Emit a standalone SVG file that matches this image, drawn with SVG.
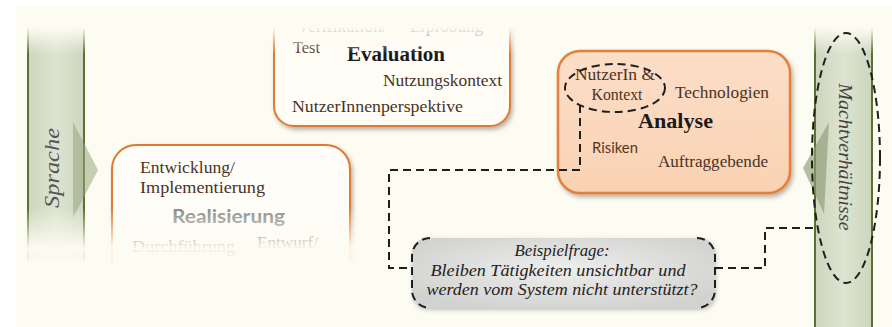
<svg xmlns="http://www.w3.org/2000/svg" width="892" height="327" viewBox="0 0 892 327">
<defs>
<style>
.serif{font-family:"Liberation Serif","DejaVu Serif",serif;}
.sans{font-family:Lato,"Open Sans","Liberation Sans",sans-serif;}
.t{font-size:16px;fill:#4a3226;}
.dash{fill:none;stroke:#1e1e1e;stroke-width:2;stroke-dasharray:8 5;}
.bar{fill:url(#barG);}
.barline{stroke:#5b7032;stroke-width:2;}
</style>
<linearGradient id="barG" x1="0" y1="0" x2="1" y2="0">
<stop offset="0" stop-color="#cdd6bd"/><stop offset="0.5" stop-color="#dde3d0"/><stop offset="1" stop-color="#cdd6bd"/>
</linearGradient>
<linearGradient id="peach" x1="0" y1="0" x2="0" y2="1">
<stop offset="0" stop-color="#fcdec8"/><stop offset="1" stop-color="#fad2b2"/>
</linearGradient>
<radialGradient id="grayG" cx="0.5" cy="0.45" r="0.6">
<stop offset="0" stop-color="#eeeeec"/><stop offset="1" stop-color="#d2d2d0"/>
</radialGradient>
<linearGradient id="topFade" x1="0" y1="0" x2="0" y2="1">
<stop offset="0.5" stop-color="#fdfcf2" stop-opacity="1"/><stop offset="1" stop-color="#fdfcf2" stop-opacity="0"/>
</linearGradient>
<linearGradient id="botFade" x1="0" y1="0" x2="0" y2="1">
<stop offset="0" stop-color="#fdfcf2" stop-opacity="0"/><stop offset="1" stop-color="#fdfcf2" stop-opacity="1"/>
</linearGradient>
<filter id="sh" x="-10%" y="-10%" width="125%" height="130%">
<feDropShadow dx="2" dy="3" stdDeviation="2" flood-color="#6e5a48" flood-opacity="0.45"/>
</filter>
<filter id="sh2" x="-10%" y="-10%" width="125%" height="130%">
<feDropShadow dx="1" dy="2" stdDeviation="2" flood-color="#555" flood-opacity="0.35"/>
</filter>
</defs>

<rect x="0" y="0" width="892" height="327" fill="#ffffff"/>
<rect x="16" y="6" width="876" height="321" fill="#fdfcf2"/>

<g id="sprache">
<rect class="bar" x="27" y="20" width="58" height="240"/>
<line class="barline" x1="28" y1="20" x2="28" y2="260"/>
<line class="barline" x1="84" y1="20" x2="84" y2="260"/>
<polygon points="73,122 98,170 73,218" fill="#98a67f" opacity="0.55"/>
<text class="serif" x="59" y="168" transform="rotate(-90 59 168)" text-anchor="middle" font-size="20" font-style="italic" fill="#555" textLength="80" lengthAdjust="spacingAndGlyphs">Sprache</text>
</g>

<g id="machtverhaeltnisse">
<rect class="bar" x="815" y="20" width="57" height="307"/>
<line class="barline" x1="815" y1="20" x2="815" y2="327"/>
<line class="barline" x1="872" y1="20" x2="872" y2="327"/>
<polygon points="829,122 803,168 824,214" fill="#8f9d76" opacity="0.65"/>
<text class="serif" x="839" y="157" transform="rotate(90 839 157)" text-anchor="middle" font-size="18" font-style="italic" fill="#444" textLength="147" lengthAdjust="spacingAndGlyphs">Machtverhältnisse</text>
</g>

<g id="evaluation">
<rect x="274" y="-20" width="236" height="146" rx="20" fill="#fffdf6" stroke="#e07a30" stroke-width="2" filter="url(#sh)"/>
<text class="serif t" x="297" y="32" fill="#6a5a50" textLength="90" lengthAdjust="spacingAndGlyphs">Verifikation/</text>
<text class="serif t" x="410" y="32" fill="#6a5a50" textLength="73" lengthAdjust="spacingAndGlyphs">Erprobung</text>
<text class="serif t" x="293" y="53" textLength="27" lengthAdjust="spacingAndGlyphs">Test</text>
<text class="serif" x="347" y="61" font-size="20" font-weight="bold" fill="#1a1a1a" textLength="98" lengthAdjust="spacingAndGlyphs">Evaluation</text>
<text class="serif t" x="383" y="86" textLength="119" lengthAdjust="spacingAndGlyphs">Nutzungskontext</text>
<text class="serif t" x="292" y="112" textLength="171" lengthAdjust="spacingAndGlyphs">NutzerInnenperspektive</text>
</g>

<g id="realisierung">
<rect x="112" y="145" width="238" height="170" rx="24" fill="#fffdf7" stroke="#e07a30" stroke-width="2" filter="url(#sh)"/>
<text class="serif t" x="140" y="173" fill="#4d3a30" textLength="95" lengthAdjust="spacingAndGlyphs">Entwicklung/</text>
<text class="serif t" x="140" y="193" fill="#7e6a5b" textLength="125" lengthAdjust="spacingAndGlyphs">Implementierung</text>
<text class="sans" x="172" y="223" font-size="19" font-weight="bold" fill="#8a8a8a" textLength="113" lengthAdjust="spacingAndGlyphs">Realisierung</text>
<text class="serif t" x="132" y="252" fill="#b0a090" textLength="103" lengthAdjust="spacingAndGlyphs">Durchführung</text>
<text class="serif t" x="257" y="248" fill="#b0a090" textLength="61" lengthAdjust="spacingAndGlyphs">Entwurf/</text>
</g>

<rect x="16" y="0" width="876" height="54" fill="url(#topFade)"/>
<rect x="16" y="208" width="360" height="42" fill="url(#botFade)"/>
<rect x="16" y="250" width="360" height="77" fill="#fdfcf2" opacity="0.92"/>
<rect x="16" y="262" width="360" height="65" fill="#fdfcf2"/>
<rect x="0" y="0" width="892" height="6" fill="#ffffff"/>
<rect x="0" y="0" width="16" height="327" fill="#ffffff"/>

<g id="analyse">
<rect x="558" y="51" width="232" height="142" rx="22" fill="url(#peach)" stroke="#e5803a" stroke-width="2.5" filter="url(#sh)"/>
<text class="serif t" x="615" y="80" text-anchor="middle" fill="#5a3522" textLength="80" lengthAdjust="spacingAndGlyphs">NutzerIn &amp;</text>
<text class="serif t" x="617" y="100" text-anchor="middle" fill="#5a3522" textLength="51" lengthAdjust="spacingAndGlyphs">Kontext</text>
<text class="serif t" x="675" y="98" fill="#5a3522" textLength="94" lengthAdjust="spacingAndGlyphs">Technologien</text>
<text class="serif" x="638" y="128" font-size="20" font-weight="bold" fill="#1a1a1a" textLength="75" lengthAdjust="spacingAndGlyphs">Analyse</text>
<text class="sans" x="592" y="153" font-size="15" fill="#5a3522" textLength="46" lengthAdjust="spacingAndGlyphs">Risiken</text>
<text class="serif t" x="658" y="167" fill="#5a3522" textLength="110" lengthAdjust="spacingAndGlyphs">Auftraggebende</text>
<ellipse class="dash" cx="615" cy="88" rx="50" ry="24"/>
</g>

<g id="beispielfrage">
<rect x="412" y="238" width="303" height="70" rx="15" fill="url(#grayG)" filter="url(#sh2)"/>
<path class="dash" d="M430,238 A18 18 0 0 0 412,256 L412,290 A18 18 0 0 0 430,308"/>
<path class="dash" d="M697,238 A18 18 0 0 1 715,256 L715,290 A18 18 0 0 1 697,308"/>
<text class="serif" font-style="italic" font-size="16" fill="#222" text-anchor="middle">
<tspan x="564" y="256" textLength="95" lengthAdjust="spacingAndGlyphs">Beispielfrage:</tspan>
<tspan x="560" y="276" textLength="255" lengthAdjust="spacingAndGlyphs">Bleiben Tätigkeiten unsichtbar und</tspan>
<tspan x="562" y="295" textLength="271" lengthAdjust="spacingAndGlyphs">werden vom System nicht unterstützt?</tspan>
</text>
</g>

<g id="connectors">
<path class="dash" d="M580,105 L580,170 L389,170 L389,268 L412,268"/>
<path class="dash" d="M715,268 L765,268 L765,228 L815,228"/>
<ellipse class="dash" cx="846" cy="158" rx="34" ry="125"/>
</g>
</svg>
